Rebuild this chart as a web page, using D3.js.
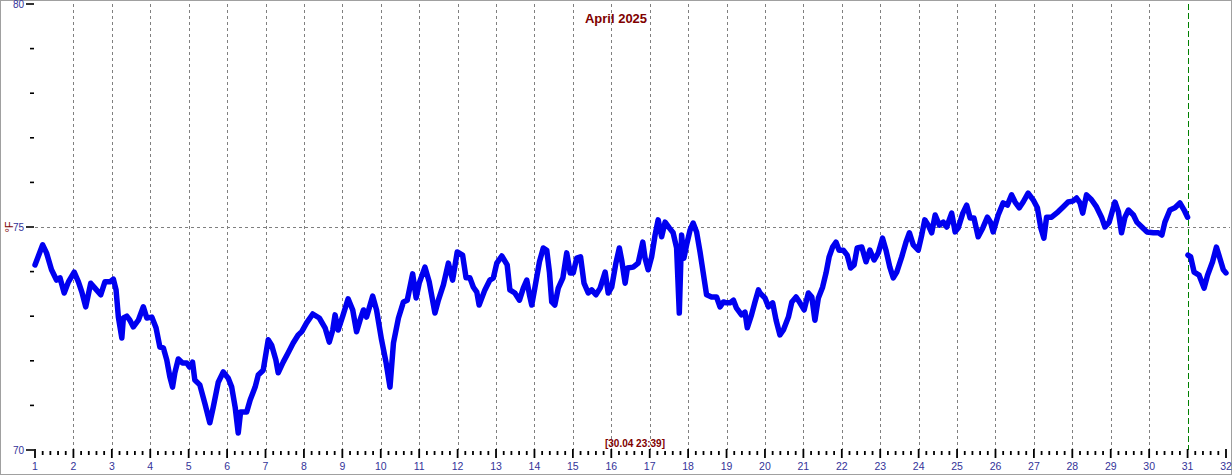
<!DOCTYPE html>
<html><head><meta charset="utf-8">
<script src="https://cdn.jsdelivr.net/npm/d3@7"></script>
<style>html,body{margin:0;padding:0;background:#fff;}svg{display:block;}</style>
</head><body>
<script>
// ---- data ----
const title = "April 2025";
const yTitle = "°F";
const stampLabel = "[30.04 23:39]";
const dayTicks = d3.range(1, 33);          // 1..32
const yTickValues = d3.range(70, 81);      // 70..80
const yLabelValues = [70, 75, 80];
const markerDay = 31;

// Series up to the current-time marker
const days1 = [1.00,1.20,1.30,1.43,1.56,1.65,1.76,1.87,2.02,2.13,2.22,2.32,2.45,2.56,2.71,2.82,2.95,3.04,3.11,3.17,3.26,3.30,3.39,3.47,3.56,3.69,3.82,3.91,4.04,4.15,4.25,4.34,4.43,4.51,4.58,4.64,4.73,4.84,4.95,5.02,5.10,5.16,5.29,5.42,5.55,5.64,5.77,5.90,6.03,6.12,6.21,6.29,6.35,6.51,6.60,6.73,6.81,6.94,7.07,7.16,7.27,7.33,7.46,7.59,7.72,7.85,7.94,8.07,8.23,8.40,8.55,8.66,8.75,8.81,8.89,9.02,9.15,9.27,9.37,9.46,9.55,9.63,9.79,9.89,10.02,10.14,10.24,10.33,10.46,10.59,10.69,10.83,10.92,11.00,11.15,11.26,11.41,11.50,11.63,11.76,11.87,11.99,12.13,12.22,12.32,12.41,12.50,12.56,12.71,12.84,12.93,13.02,13.15,13.29,13.36,13.49,13.61,13.71,13.80,13.87,13.93,14.01,14.13,14.23,14.32,14.39,14.45,14.53,14.62,14.74,14.84,14.93,15.01,15.10,15.20,15.29,15.40,15.49,15.60,15.71,15.84,15.92,16.01,16.12,16.21,16.27,16.36,16.42,16.57,16.70,16.82,16.88,16.96,17.05,17.14,17.22,17.31,17.40,17.51,17.61,17.70,17.77,17.83,17.89,17.96,18.05,18.13,18.22,18.31,18.39,18.48,18.61,18.74,18.83,18.92,19.00,19.09,19.18,19.26,19.39,19.48,19.54,19.65,19.74,19.83,19.87,20.00,20.09,20.20,20.29,20.39,20.48,20.61,20.70,20.81,20.91,21.02,21.13,21.22,21.30,21.39,21.50,21.59,21.67,21.76,21.85,21.93,22.04,22.14,22.23,22.32,22.40,22.52,22.63,22.73,22.84,22.95,23.06,23.15,23.25,23.34,23.43,23.56,23.67,23.76,23.86,23.99,24.08,24.16,24.25,24.34,24.43,24.54,24.64,24.73,24.86,24.95,25.03,25.15,25.25,25.34,25.44,25.55,25.67,25.79,25.87,25.94,26.07,26.20,26.31,26.42,26.51,26.62,26.72,26.85,26.98,27.09,27.18,27.26,27.33,27.46,27.63,27.76,27.89,28.01,28.11,28.20,28.27,28.37,28.50,28.63,28.76,28.85,28.96,29.11,29.20,29.28,29.37,29.46,29.59,29.68,29.81,29.94,30.11,30.24,30.33,30.41,30.54,30.67,30.80,30.91,31.00];
const temps1 = [74.15,74.60,74.42,74.04,73.81,73.86,73.52,73.77,73.99,73.77,73.54,73.21,73.74,73.63,73.48,73.77,73.77,73.83,73.59,72.98,72.51,72.96,73.00,72.91,72.76,72.91,73.21,72.96,72.98,72.74,72.31,72.29,72.02,71.64,71.41,71.73,72.04,71.95,71.95,71.86,71.97,71.57,71.46,71.05,70.61,70.96,71.52,71.75,71.61,71.41,70.96,70.38,70.85,70.85,71.12,71.41,71.68,71.79,72.47,72.35,72.02,71.73,71.97,72.18,72.40,72.58,72.65,72.85,73.05,72.96,72.74,72.42,72.69,73.03,72.69,73.03,73.39,73.14,72.65,72.91,73.14,72.98,73.45,73.14,72.47,71.95,71.41,72.40,72.96,73.32,73.36,73.95,73.41,73.74,74.10,73.77,73.07,73.36,73.70,74.19,73.81,74.44,74.37,73.86,73.86,73.65,73.54,73.25,73.59,73.81,73.86,74.19,74.35,74.15,73.59,73.52,73.36,73.63,73.81,73.48,73.25,73.63,74.22,74.53,74.48,73.99,73.32,73.25,73.63,73.86,74.42,73.97,73.97,74.30,74.33,73.74,73.52,73.59,73.48,73.63,73.99,73.52,73.65,74.19,74.53,74.26,73.74,74.08,74.10,74.19,74.66,74.30,74.04,74.33,74.82,75.16,74.78,75.11,74.98,74.87,74.53,73.07,74.82,74.30,74.60,74.93,75.09,74.89,74.44,73.99,73.48,73.43,73.43,73.21,73.32,73.30,73.30,73.36,73.18,73.03,73.09,72.74,73.03,73.32,73.59,73.52,73.41,73.21,73.30,72.91,72.58,72.69,72.98,73.32,73.43,73.30,73.14,73.52,73.43,72.91,73.41,73.65,73.97,74.33,74.55,74.66,74.48,74.48,74.37,74.08,74.15,74.53,74.55,74.22,74.48,74.26,74.42,74.75,74.48,74.10,73.86,73.99,74.33,74.66,74.87,74.60,74.48,74.82,75.16,75.04,74.87,75.27,75.04,75.11,75.00,75.31,74.89,74.98,75.31,75.49,75.20,75.20,74.78,74.98,75.22,75.11,74.89,75.27,75.54,75.49,75.72,75.56,75.43,75.56,75.76,75.61,75.43,74.98,74.75,75.22,75.22,75.34,75.45,75.56,75.58,75.65,75.54,75.31,75.72,75.61,75.45,75.22,75.00,75.11,75.56,75.34,74.87,75.22,75.38,75.27,75.11,75.00,74.89,74.87,74.87,74.82,75.11,75.38,75.43,75.54,75.38,75.22];

// Series after the current-time marker
const days2 = [31.01,31.08,31.17,31.30,31.43,31.52,31.65,31.75,31.84,31.93,32.00];
const temps2 = [74.37,74.33,73.99,73.92,73.63,73.92,74.22,74.55,74.30,74.04,73.97];

// ---- drawing ----
const W = 1232, H = 475;
const svg = d3.select("body").append("svg").attr("width", W).attr("height", H);
const font = "'Liberation Sans', Arial, sans-serif";

const x = d3.scaleLinear().domain([1, 32]).range([35, 1226]);
const y = d3.scaleLinear().domain([70, 80]).range([450, 4]);

// outer frame
svg.append("rect").attr("x", 0.5).attr("y", 0.5).attr("width", W - 1).attr("height", H - 1)
  .attr("fill", "#fff").attr("stroke", "#a0a0a0");

// vertical grid lines
svg.append("g").selectAll("line").data(dayTicks.filter(d => d > 1 && d < 32 && d !== markerDay)).join("line")
  .attr("x1", d => Math.round(x(d)) + 0.5).attr("x2", d => Math.round(x(d)) + 0.5)
  .attr("y1", y(80)).attr("y2", y(70))
  .attr("stroke", "#808080").attr("stroke-width", 1).attr("stroke-dasharray", "3,3");

// horizontal grid line at 75
svg.append("line").attr("x1", x(1)).attr("x2", W - 2)
  .attr("y1", Math.round(y(75)) + 0.5).attr("y2", Math.round(y(75)) + 0.5)
  .attr("stroke", "#808080").attr("stroke-dasharray", "3,3");

// marker line
svg.append("line")
  .attr("x1", Math.round(x(markerDay)) + 0.5).attr("x2", Math.round(x(markerDay)) + 0.5)
  .attr("y1", y(80)).attr("y2", y(70))
  .attr("stroke", "#008000").attr("stroke-width", 1).attr("stroke-dasharray", "6,3");

// y ticks
const yg = svg.append("g");
yg.selectAll("line").data(yTickValues).join("line")
  .attr("x1", d => yLabelValues.includes(d) ? 26 : 30).attr("x2", 34)
  .attr("y1", d => y(d)).attr("y2", d => y(d))
  .attr("stroke", "#000").attr("stroke-width", 1.6);
yg.selectAll("text").data(yLabelValues).join("text")
  .attr("x", 24).attr("y", d => y(d)).attr("dy", "0.35em")
  .attr("text-anchor", "end").attr("font-family", font).attr("font-size", 10)
  .attr("fill", "#333399").text(d => d);

// x ticks
const minor = d3.range(0, 31 * 5 + 1).map(i => 1 + i / 5).filter(d => Math.abs(d - Math.round(d)) > 1e-6);
svg.append("g").selectAll("line").data(minor).join("line")
  .attr("x1", d => x(d)).attr("x2", d => x(d)).attr("y1", 451).attr("y2", 455)
  .attr("stroke", "#000").attr("stroke-width", 1.8);
svg.append("g").selectAll("line").data(dayTicks).join("line")
  .attr("x1", d => x(d)).attr("x2", d => x(d)).attr("y1", 449).attr("y2", 458)
  .attr("stroke", "#000").attr("stroke-width", 1.8);
svg.append("g").selectAll("text").data(dayTicks).join("text")
  .attr("x", d => x(d)).attr("y", 470).attr("text-anchor", "middle")
  .attr("font-family", font).attr("font-size", 10.5).attr("fill", "#333399").text(d => d);

// series
const line = d3.line().x(d => x(d[0])).y(d => y(d[1]));
const s1 = days1.map((d, i) => [d, temps1[i]]);
const s2 = days2.map((d, i) => [d, temps2[i]]);
[s1, s2].forEach(s => {
  svg.append("path").datum(s).attr("d", line)
    .attr("fill", "none").attr("stroke", "#0000f0").attr("stroke-width", 5.5)
    .attr("stroke-linejoin", "round").attr("stroke-linecap", "round");
});

// titles
svg.append("text").attr("x", W / 2).attr("y", 23).attr("text-anchor", "middle")
  .attr("font-family", font).attr("font-size", 13).attr("font-weight", "bold")
  .attr("fill", "#800000").text(title);
svg.append("text").attr("transform", `translate(13,${y(75)}) rotate(-90)`)
  .attr("text-anchor", "middle").attr("font-family", font).attr("font-size", 11)
  .attr("fill", "#800000").text(yTitle);
svg.append("text").attr("x", 635).attr("y", 447).attr("text-anchor", "middle")
  .attr("font-family", font).attr("font-size", 10).attr("font-weight", "bold")
  .attr("fill", "#800000").text(stampLabel);
</script>
</body></html>
